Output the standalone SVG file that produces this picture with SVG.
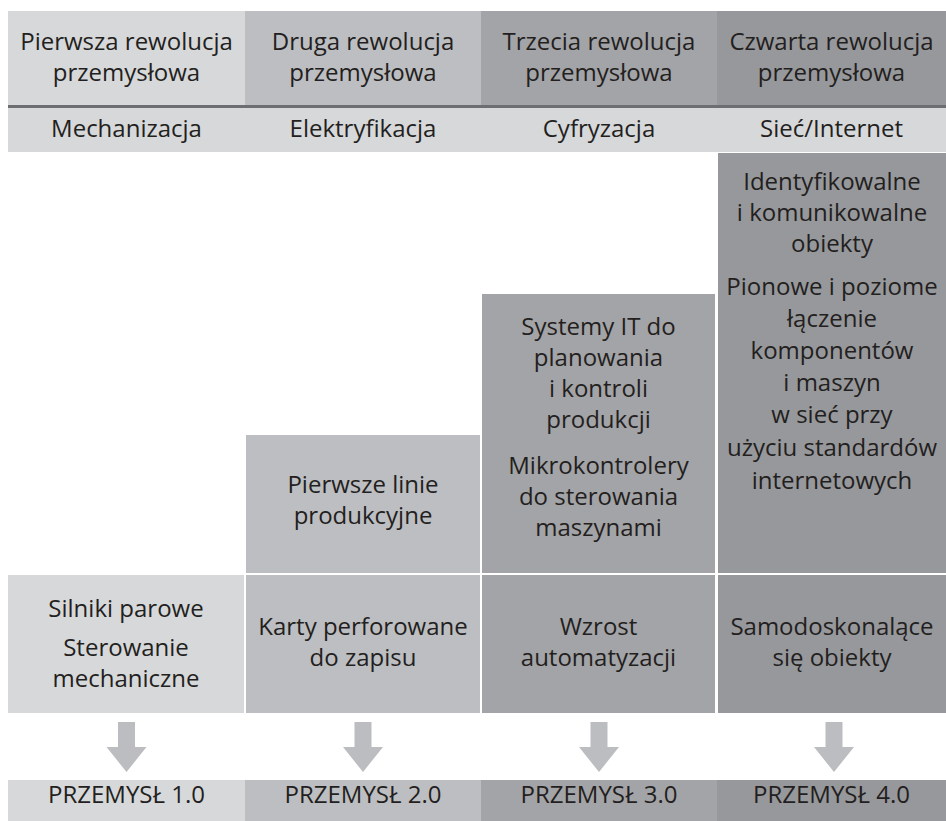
<svg xmlns="http://www.w3.org/2000/svg" width="946" height="821" viewBox="0 0 946 821">
  <defs>
    <style>
      text { font-family: "Open Sans", "Noto Sans", "DejaVu Sans", sans-serif; font-size: 24px; fill: #231f20; text-anchor: middle; }
      .c1 { fill: #d7d8da; }
      .c2 { fill: #bdbec1; }
      .c3 { fill: #a3a4a7; }
      .c4 { fill: #97989b; }
      .sep { fill: #6d6e71; }
      .arrow { fill: #bcbdc0; }
    </style>
    <!-- downward block arrow, centred on x=0 -->
    <polygon id="downArrow" points="-8.5,722 8.5,722 8.5,747 20,747 0,772 -20,747 -8.5,747"/>
  </defs>

  <rect width="946" height="821" fill="#ffffff"/>

  <!-- header: revolutions -->
  <g id="header">
    <rect class="c1" x="8" y="11" width="237" height="94"/>
    <rect class="c2" x="245" y="11" width="236" height="94"/>
    <rect class="c3" x="481" y="11" width="236" height="94"/>
    <rect class="c4" x="717" y="11" width="229" height="94"/>
    <rect class="sep" x="8" y="105" width="938" height="3"/>
    <rect class="c1" x="8" y="108" width="938" height="44"/>
    <text x="126.5" y="50">Pierwsza rewolucja</text>
    <text x="126.5" y="81">przemysłowa</text>
    <text x="363" y="50">Druga rewolucja</text>
    <text x="363" y="81">przemysłowa</text>
    <text x="599" y="50">Trzecia rewolucja</text>
    <text x="599" y="81">przemysłowa</text>
    <text x="831.5" y="50">Czwarta rewolucja</text>
    <text x="831.5" y="81">przemysłowa</text>
    <text x="126.5" y="137">Mechanizacja</text>
    <text x="363" y="137">Elektryfikacja</text>
    <text x="599" y="137">Cyfryzacja</text>
    <text x="831.5" y="137">Sieć/Internet</text>
  </g>

  <!-- upper feature boxes -->
  <g id="lines-2">
    <rect class="c2" x="246" y="435" width="234" height="138"/>
    <text x="363" y="493">Pierwsze linie</text>
    <text x="363" y="524">produkcyjne</text>
  </g>
  <g id="it-3">
    <rect class="c3" x="482" y="294" width="233" height="279"/>
    <text x="598.5" y="335">Systemy IT do</text>
    <text x="598.5" y="366">planowania</text>
    <text x="598.5" y="397">i kontroli</text>
    <text x="598.5" y="428">produkcji</text>
    <text x="598.5" y="474">Mikrokontrolery</text>
    <text x="598.5" y="505">do sterowania</text>
    <text x="598.5" y="536">maszynami</text>
  </g>
  <g id="net-4">
    <rect class="c4" x="718" y="153" width="228" height="420"/>
    <text x="832" y="190">Identyfikowalne</text>
    <text x="832" y="221">i komunikowalne</text>
    <text x="832" y="252">obiekty</text>
    <text x="832" y="295">Pionowe i poziome</text>
    <text x="832" y="327">łączenie</text>
    <text x="832" y="359">komponentów</text>
    <text x="832" y="391">i maszyn</text>
    <text x="832" y="423">w sieć przy</text>
    <text x="832" y="456">użyciu standardów</text>
    <text x="832" y="489">internetowych</text>
  </g>

  <!-- lower feature boxes -->
  <g id="steam-1">
    <rect class="c1" x="8" y="575" width="236" height="138"/>
    <text x="126" y="617">Silniki parowe</text>
    <text x="126" y="656">Sterowanie</text>
    <text x="126" y="687">mechaniczne</text>
  </g>
  <g id="cards-2">
    <rect class="c2" x="246" y="575" width="234" height="138"/>
    <text x="363" y="635">Karty perforowane</text>
    <text x="363" y="666">do zapisu</text>
  </g>
  <g id="auto-3">
    <rect class="c3" x="482" y="575" width="233" height="138"/>
    <text x="598.5" y="635">Wzrost</text>
    <text x="598.5" y="666">automatyzacji</text>
  </g>
  <g id="self-4">
    <rect class="c4" x="718" y="575" width="228" height="138"/>
    <text x="832" y="635">Samodoskonalące</text>
    <text x="832" y="666">się obiekty</text>
  </g>

  <!-- arrows down to the industry stages -->
  <g id="connectors" class="arrow">
    <use href="#downArrow" x="126.5"/>
    <use href="#downArrow" x="363"/>
    <use href="#downArrow" x="599"/>
    <use href="#downArrow" x="834"/>
  </g>

  <!-- industry stages -->
  <g id="stage-1">
    <rect class="c1" x="8" y="780" width="237" height="41"/>
    <text x="126.5" y="803">PRZEMYSŁ 1.0</text>
  </g>
  <g id="stage-2">
    <rect class="c2" x="245" y="780" width="236" height="41"/>
    <text x="363" y="803">PRZEMYSŁ 2.0</text>
  </g>
  <g id="stage-3">
    <rect class="c3" x="481" y="780" width="236" height="41"/>
    <text x="599" y="803">PRZEMYSŁ 3.0</text>
  </g>
  <g id="stage-4">
    <rect class="c4" x="717" y="780" width="229" height="41"/>
    <text x="831.5" y="803">PRZEMYSŁ 4.0</text>
  </g>
</svg>
